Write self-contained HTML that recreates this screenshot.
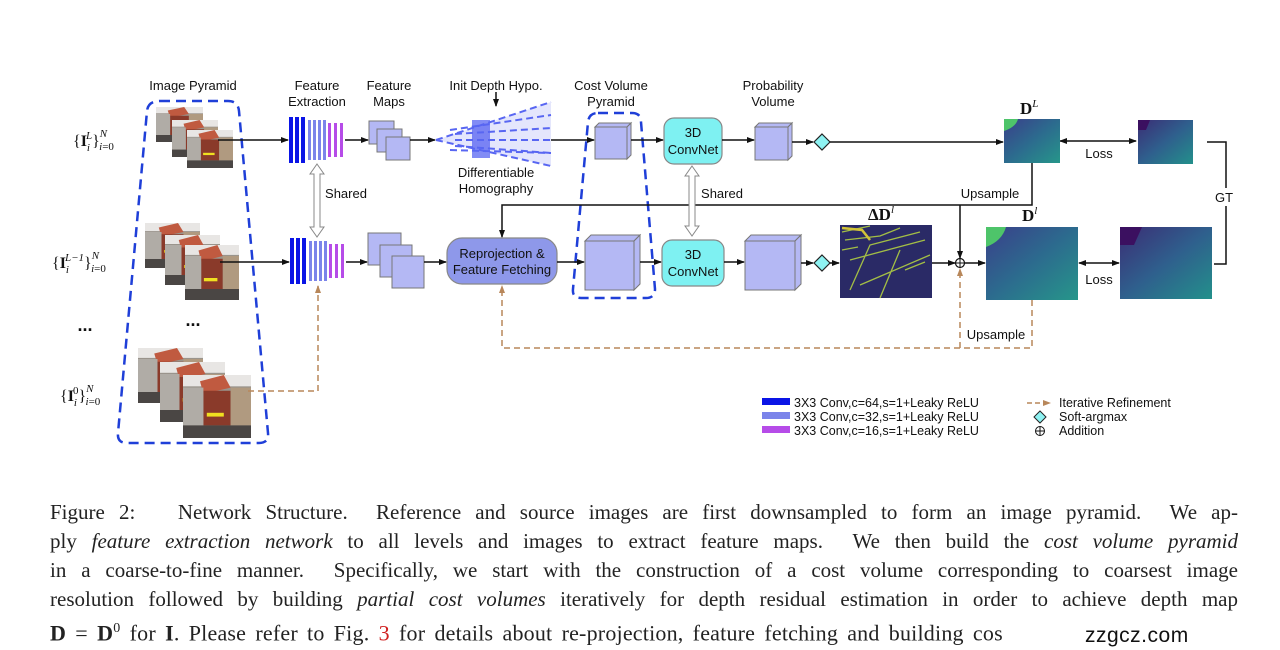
<!DOCTYPE html>
<html><head><meta charset="utf-8"><style>
body{margin:0;background:#fff;width:1280px;height:650px;overflow:hidden;position:relative}
.cap{position:absolute;left:50px;width:1188px;font-family:"Liberation Serif",serif;font-size:21px;color:#222;white-space:nowrap;text-align:justify;text-align-last:justify;line-height:29px}
</style></head><body>
<svg width="1280" height="470" style="position:absolute;left:0;top:0" font-family="Liberation Sans, sans-serif" font-size="13">
<defs>
<marker id="ah" markerWidth="8" markerHeight="8" refX="7" refY="4" orient="auto" markerUnits="userSpaceOnUse"><path d="M0,1 L8,4 L0,7 Z" fill="#111"/></marker>
<marker id="as" markerWidth="8" markerHeight="8" refX="1" refY="4" orient="auto" markerUnits="userSpaceOnUse"><path d="M8,1 L0,4 L8,7 Z" fill="#111"/></marker>
<marker id="ab" markerWidth="8" markerHeight="8" refX="7" refY="4" orient="auto" markerUnits="userSpaceOnUse"><path d="M0,1 L8,4 L0,7 Z" fill="#b8875a"/></marker>
<linearGradient id="dep" x1="0" y1="0" x2="1" y2="1"><stop offset="0" stop-color="#3a3f8a"/><stop offset="0.5" stop-color="#2c6b8e"/><stop offset="1" stop-color="#26968a"/></linearGradient>
<linearGradient id="gt" x1="0" y1="0" x2="1" y2="1"><stop offset="0" stop-color="#3b2d75"/><stop offset="0.5" stop-color="#2f5f8d"/><stop offset="1" stop-color="#23908b"/></linearGradient>
<symbol id="ph" viewBox="0 0 100 100" preserveAspectRatio="none">
<rect width="100" height="100" fill="#9a948c"/>
<rect x="0" y="0" width="100" height="18" fill="#e8e6e4"/>
<polygon points="25,10 60,0 70,20 30,30" fill="#c05a40"/>
<rect x="30" y="25" width="40" height="55" fill="#8a3a2a"/>
<rect x="70" y="20" width="30" height="60" fill="#b09a80"/>
<rect x="0" y="20" width="30" height="60" fill="#b0aca6"/>
<rect x="35" y="60" width="25" height="6" fill="#f0e020"/>
<rect x="0" y="80" width="100" height="20" fill="#4a4644"/>
</symbol>
</defs>
<g fill="#111" text-anchor="middle">
<text x="193" y="90">Image Pyramid</text>
<text x="317" y="90">Feature</text><text x="317" y="106">Extraction</text>
<text x="389" y="90">Feature</text><text x="389" y="106">Maps</text>
<text x="496" y="90">Init Depth Hypo.</text>
<text x="496" y="177">Differentiable</text><text x="496" y="193">Homography</text>
<text x="611" y="90">Cost Volume</text><text x="611" y="106">Pyramid</text>
<text x="773" y="90">Probability</text><text x="773" y="106">Volume</text>
<text x="346" y="198">Shared</text>
<text x="722" y="198">Shared</text>
<text x="990" y="198">Upsample</text>
<text x="996" y="339">Upsample</text>
<text x="1099" y="158">Loss</text>
<text x="1099" y="284">Loss</text>
<text x="193" y="326" font-size="18" font-weight="bold">...</text>
<text x="85" y="331" font-size="18" font-weight="bold">...</text>
</g>
<g font-family="Liberation Serif, serif" fill="#111" font-size="16">
<text x="73" y="146">{<tspan font-weight="bold">I</tspan><tspan font-size="11" dy="5" font-style="italic">i</tspan><tspan font-size="11" dx="-4" dy="-12" font-style="italic">L</tspan><tspan dy="7">}</tspan><tspan font-size="11" dy="-9" font-style="italic">N</tspan><tspan font-size="11" dx="-8" dy="13" font-style="italic">i</tspan><tspan font-size="11">=0</tspan></text>
<text x="52" y="268">{<tspan font-weight="bold">I</tspan><tspan font-size="11" dy="5" font-style="italic">i</tspan><tspan font-size="11" dx="-4" dy="-12" font-style="italic">L−1</tspan><tspan dy="7">}</tspan><tspan font-size="11" dy="-9" font-style="italic">N</tspan><tspan font-size="11" dx="-8" dy="13" font-style="italic">i</tspan><tspan font-size="11">=0</tspan></text>
<text x="60" y="401">{<tspan font-weight="bold">I</tspan><tspan font-size="11" dy="5" font-style="italic">i</tspan><tspan font-size="11" dx="-4" dy="-12">0</tspan><tspan dy="7">}</tspan><tspan font-size="11" dy="-9" font-style="italic">N</tspan><tspan font-size="11" dx="-8" dy="13" font-style="italic">i</tspan><tspan font-size="11">=0</tspan></text>
<text x="1020" y="114" font-weight="bold" font-size="17">D<tspan font-size="11" dy="-7" font-style="italic" font-weight="normal">L</tspan></text>
<text x="1022" y="221" font-weight="bold" font-size="17">D<tspan font-size="11" dy="-7" font-style="italic" font-weight="normal">l</tspan></text>
<text x="868" y="220" font-weight="bold" font-size="17">ΔD<tspan font-size="11" dy="-7" font-style="italic" font-weight="normal">l</tspan></text>
</g>
<path d="M160,101 L228,101 Q238,101 239,111 L268,433 Q269,443 259,443 L127,443 Q117,443 118,433 L147,111 Q148,101 160,101 Z" fill="none" stroke="#1f3fd8" stroke-width="2.5" stroke-dasharray="10,6"/>
<use href="#ph" x="156" y="107" width="47" height="35"/>
<use href="#ph" x="172" y="120" width="46" height="37"/>
<use href="#ph" x="187" y="130" width="46" height="38"/>
<use href="#ph" x="145" y="223" width="55" height="45"/>
<use href="#ph" x="165" y="235" width="55" height="50"/>
<use href="#ph" x="185" y="245" width="54" height="55"/>
<use href="#ph" x="138" y="348" width="65" height="55"/>
<use href="#ph" x="160" y="362" width="65" height="60"/>
<use href="#ph" x="183" y="375" width="68" height="63"/>
<g id="cb1">
<rect x="289" y="117" width="4" height="46" fill="#0a14e6"/><rect x="295" y="117" width="4" height="46" fill="#0a14e6"/><rect x="301" y="117" width="4" height="46" fill="#0a14e6"/>
<rect x="308" y="120" width="3" height="40" fill="#7b84ea"/><rect x="313" y="120" width="3" height="40" fill="#7b84ea"/><rect x="318" y="120" width="3" height="40" fill="#7b84ea"/><rect x="323" y="120" width="3" height="40" fill="#7b84ea"/>
<rect x="328" y="123" width="3" height="34" fill="#b64ce8"/><rect x="334" y="123" width="3" height="34" fill="#b64ce8"/><rect x="340" y="123" width="3" height="34" fill="#b64ce8"/>
</g>
<use href="#cb1" x="1" y="121"/>
<g fill="#b4b8f4" stroke="#777" stroke-width="1">
<rect x="369" y="121" width="25" height="23"/><rect x="377" y="129" width="25" height="23"/><rect x="386" y="137" width="24" height="23"/>
<rect x="368" y="233" width="33" height="32"/><rect x="380" y="245" width="32" height="32"/><rect x="392" y="256" width="32" height="32"/>
</g>
<g stroke="#3c4cf0" stroke-width="2" stroke-dasharray="7,4" fill="none" opacity="0.85">
<polygon points="436,140 551,102 551,166" fill="#c9cdf8" stroke="none" opacity="0.6"/>
<rect x="472" y="120" width="18" height="38" fill="#2f3ff0" stroke="none" opacity="0.7"/>
<line x1="436" y1="140" x2="551" y2="102"/><line x1="436" y1="140" x2="551" y2="166"/>
<line x1="450" y1="130" x2="551" y2="115"/><line x1="450" y1="150" x2="551" y2="153"/>
<line x1="455" y1="140" x2="551" y2="140"/><line x1="455" y1="134" x2="551" y2="128"/><line x1="455" y1="146" x2="551" y2="153"/>
</g>
<path d="M598,113 L632,113 Q641,113 641,122 L655,289 Q655,298 646,298 L581,298 Q572,298 573,289 L588,122 Q589,113 598,113 Z" fill="none" stroke="#1f3fd8" stroke-width="2.5" stroke-dasharray="10,6"/>
<g fill="#b4b8f4" stroke="#777" stroke-width="1">
<polygon points="595,127 599,123 631,123 627,127"/><polygon points="627,127 631,123 631,155 627,159"/><rect x="595" y="127" width="32" height="32"/>
<polygon points="755,127 759,123 792,123 788,127"/><polygon points="788,127 792,123 792,156 788,160"/><rect x="755" y="127" width="33" height="33"/>
<polygon points="585,241 591,235 640,235 634,241"/><polygon points="634,241 640,235 640,284 634,290"/><rect x="585" y="241" width="49" height="49"/>
<polygon points="745,241 751,235 801,235 795,241"/><polygon points="795,241 801,235 801,284 795,290"/><rect x="745" y="241" width="50" height="49"/>
</g>
<g fill="#7ef1f2" stroke="#888" stroke-width="1.2">
<rect x="664" y="118" width="58" height="46" rx="10"/><rect x="662" y="240" width="62" height="46" rx="10"/>
</g>
<rect x="447" y="238" width="110" height="46" rx="15" fill="#8e98ea" stroke="#888" stroke-width="1.2"/>
<g text-anchor="middle" fill="#111">
<text x="693" y="137">3D</text><text x="693" y="154">ConvNet</text>
<text x="693" y="259">3D</text><text x="693" y="276">ConvNet</text>
<text x="502" y="258">Reprojection &amp;</text><text x="502" y="274">Feature Fetching</text>
</g>
<g fill="#8ef2f2" stroke="#222" stroke-width="1.2">
<polygon points="822,134 830,142 822,150 814,142"/><polygon points="822,255 830,263 822,271 814,263"/>
</g>
<g stroke="#111" stroke-width="1.5" fill="none" marker-end="url(#ah)">
<line x1="218" y1="140" x2="288" y2="140"/>
<line x1="345" y1="140" x2="368" y2="140"/>
<line x1="410" y1="140" x2="435" y2="140"/>
<line x1="551" y1="140" x2="594" y2="140"/>
<line x1="631" y1="140" x2="663" y2="140"/>
<line x1="722" y1="140" x2="754" y2="140"/>
<line x1="792" y1="142" x2="813" y2="142"/>
<line x1="830" y1="142" x2="1003" y2="142"/>
<line x1="496" y1="92" x2="496" y2="106"/>
<line x1="220" y1="262" x2="289" y2="262"/>
<line x1="346" y1="262" x2="367" y2="262"/>
<line x1="424" y1="262" x2="446" y2="262"/>
<line x1="557" y1="262" x2="584" y2="262"/>
<line x1="640" y1="262" x2="661" y2="262"/>
<line x1="724" y1="262" x2="744" y2="262"/>
<line x1="801" y1="263" x2="813" y2="263"/>
<line x1="830" y1="263" x2="839" y2="263"/>
<line x1="932" y1="263" x2="955" y2="263"/>
<line x1="965" y1="263" x2="985" y2="263"/>
<polyline points="1032,163 1032,205 502,205 502,237"/>
<line x1="960" y1="205" x2="960" y2="258"/>
<line x1="1060" y1="141" x2="1136" y2="141" marker-start="url(#as)"/>
<line x1="1079" y1="263" x2="1119" y2="263" marker-start="url(#as)"/>
</g>
<polyline points="1207,142 1226,142 1226,264 1214,264" fill="none" stroke="#111" stroke-width="1.5"/>
<rect x="1215" y="188" width="20" height="18" fill="#fff"/>
<text x="1224" y="202" text-anchor="middle" fill="#111">GT</text>
<circle cx="960" cy="263" r="4.5" fill="#fff" stroke="#111" stroke-width="1.2"/><path d="M955.5,263 H964.5 M960,258.5 V267.5" stroke="#111" stroke-width="1"/>
<g fill="#fff" stroke="#888" stroke-width="1">
<path d="M317,164 L324,174 L320,174 L320,227 L324,227 L317,237 L310,227 L314,227 L314,174 L310,174 Z"/>
<path d="M692,166 L699,176 L695,176 L695,226 L699,226 L692,236 L685,226 L689,226 L689,176 L685,176 Z"/>
</g>
<g stroke="#b8875a" stroke-width="1.5" stroke-dasharray="6,4" fill="none" marker-end="url(#ab)">
<polyline points="248,391 318,391 318,286"/>
<polyline points="1032,300 1032,348 502,348 502,286"/>
<line x1="960" y1="348" x2="960" y2="269"/>
</g>
<rect x="1004" y="119" width="56" height="44" fill="url(#dep)"/><path d="M1004,119 h14 q-2,8 -14,12 z" fill="#4ec46a"/>
<rect x="1138" y="120" width="55" height="44" fill="url(#gt)"/><path d="M1138,120 h12 l-4,10 h-8z" fill="#3b1060"/>
<rect x="986" y="227" width="92" height="73" fill="url(#dep)"/><path d="M986,227 h20 q-4,14 -20,20 z" fill="#4ec46a"/>
<rect x="1120" y="227" width="92" height="72" fill="url(#gt)"/><path d="M1120,227 h22 l-8,18 h-14z" fill="#3b1060"/>
<rect x="840" y="225" width="92" height="73" fill="#2a2a66"/>
<g stroke="#b8d840" stroke-width="1.3" fill="none" opacity="0.85">
<path d="M842,232 L870,226 M845,240 L880,236 L900,228 M850,290 L870,245 L920,232 M860,285 L930,255 M850,260 L925,240 M880,298 L900,250 M905,270 L925,262 M842,250 L858,247"/>
<path d="M842,228 L862,230 L870,240" stroke="#f0e030" stroke-width="2.5"/>
</g>
<rect x="762" y="398" width="28" height="7" fill="#0a14e6"/>
<rect x="762" y="412" width="28" height="7" fill="#7b84ea"/>
<rect x="762" y="426" width="28" height="7" fill="#b64ce8"/>
<g fill="#111" font-size="12.5">
<text x="794" y="407">3X3 Conv,c=64,s=1+Leaky ReLU</text>
<text x="794" y="421">3X3 Conv,c=32,s=1+Leaky ReLU</text>
<text x="794" y="435">3X3 Conv,c=16,s=1+Leaky ReLU</text>
<text x="1059" y="407">Iterative Refinement</text>
<text x="1059" y="421">Soft-argmax</text>
<text x="1059" y="435">Addition</text>
</g>
<line x1="1027" y1="403" x2="1050" y2="403" stroke="#b8875a" stroke-width="1.5" stroke-dasharray="5,3" marker-end="url(#ab)"/>
<polygon points="1040,411 1046,417 1040,423 1034,417" fill="#8ef2f2" stroke="#222"/>
<circle cx="1040" cy="431" r="4.5" fill="#fff" stroke="#111"/><path d="M1035.5,431 H1044.5 M1040,426.5 V435.5" stroke="#111"/>
</svg>
<div class="cap" style="top:498px">Figure 2: &nbsp; Network Structure. &nbsp;Reference and source images are first downsampled to form an image pyramid. &nbsp;We ap-</div>
<div class="cap" style="top:527px">ply <i>feature extraction network</i> to all levels and images to extract feature maps. &nbsp;We then build the <i>cost volume pyramid</i></div>
<div class="cap" style="top:556px">in a coarse-to-fine manner. &nbsp;Specifically, we start with the construction of a cost volume corresponding to coarsest image</div>
<div class="cap" style="top:585px">resolution followed by building <i>partial cost volumes</i> iteratively for depth residual estimation in order to achieve depth map</div>
<div class="cap" style="top:614px;text-align:left;text-align-last:left;font-size:22px;word-spacing:3.5px;letter-spacing:0.2px"><b>D</b> = <b>D</b><sup style="font-size:14px">0</sup> for <b>I</b>. Please refer to Fig. <span style="color:#d02020">3</span> for details about re-projection, feature fetching and building cos</div>
<div style="position:absolute;left:1085px;top:624px;font-family:'Liberation Sans',sans-serif;font-size:21px;letter-spacing:0.5px;color:#111">zzgcz.com</div>
</body></html>
